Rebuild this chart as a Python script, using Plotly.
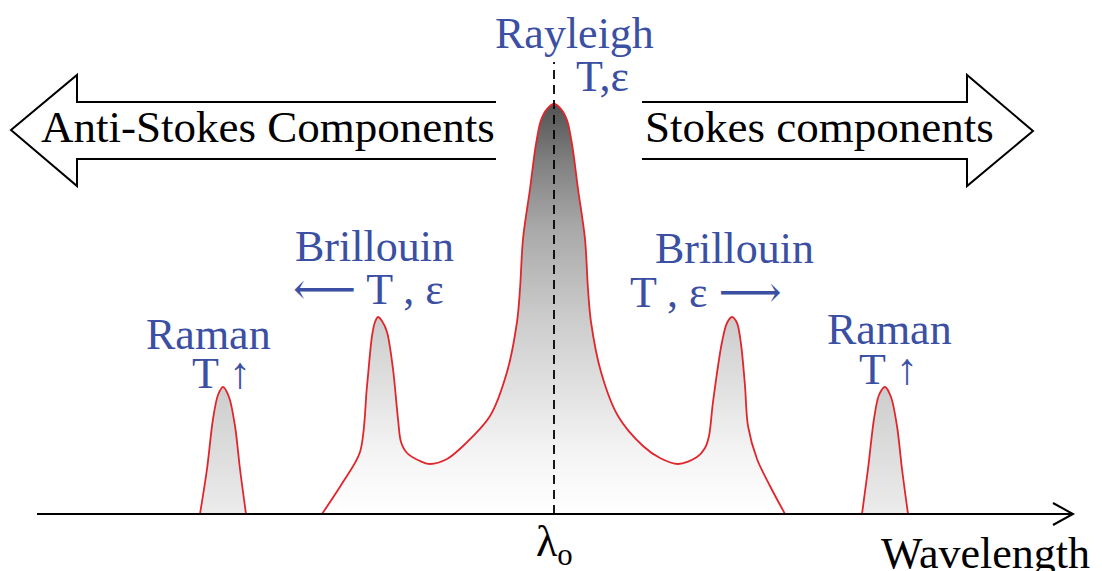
import plotly.graph_objects as go

# ---------------- data ----------------
# x: position along the wavelength axis, y: intensity above the baseline
raman_as_x = [200, 207, 213, 218, 223, 229, 235, 240, 246]
raman_as_y = [0, 45, 95, 119, 127, 117, 88, 45, 0]

center_x = [322, 343, 360, 367, 372, 375, 378, 382, 387, 393, 398, 401, 407, 420, 430, 447, 463,
            490, 507, 517, 520, 523, 530, 536, 541, 547, 554, 561, 567, 572, 578, 585, 588, 591,
            601, 618, 643, 660, 678, 697, 705, 709, 713, 722, 727, 732, 737, 741, 745,
            748, 757, 770, 785]
center_y = [0, 32, 62, 128, 178, 192, 197, 193, 182, 145, 95, 72, 61, 53, 50, 55, 68,
            98, 142, 192, 225, 275, 325, 370, 394, 405, 410, 405, 394, 370, 325, 275, 225, 192,
            142, 98, 68, 56, 50, 57, 66, 78, 112, 172, 191, 197, 191, 170, 128,
            88, 55, 28, 0]

raman_s_x = [862, 868, 874, 879, 885, 891, 897, 902, 908]
raman_s_y = [0, 45, 95, 119, 127, 117, 88, 45, 0]

lambda0 = 554
x_axis_start, x_axis_end = 37, 1073

labels_blue = ["Rayleigh", "T,ε", "Brillouin", "⟵ T , ε", "Raman", "T ↑",
               "Brillouin", "T , ε ⟶", "Raman", "T ↑"]
labels_blue_x = [574, 602, 374, 368, 208, 221, 734, 706, 889, 888]
labels_blue_y = [481, 438, 268, 225, 180, 141, 266, 222, 185, 145]

# ---------------- figure ----------------
BLUE = "#3b4fa3"
RED = "#e0262c"
SERIF = "Liberation Serif, Times New Roman, DejaVu Serif, serif"

fig = go.Figure()

grad_center = dict(type="vertical", start=0, stop=410,
                   colorscale=[[0, "#ffffff"], [0.15, "#f4f4f4"], [0.47, "#cdcdcd"],
                               [0.7, "#a8a8a8"], [0.86, "#808080"], [1, "#525252"]])
grad_raman = dict(type="vertical", start=0, stop=127,
                  colorscale=[[0, "#ececec"], [1, "#cdcdcd"]])

for xs, ys, grad in [(raman_as_x, raman_as_y, grad_raman),
                     (center_x, center_y, grad_center),
                     (raman_s_x, raman_s_y, grad_raman)]:
    fig.add_trace(go.Scatter(
        x=xs, y=ys, mode="lines", fill="tozeroy",
        fillgradient=grad,
        line=dict(color=RED, width=1.8, shape="spline", smoothing=0.9),
        hoverinfo="skip", showlegend=False))

shapes = []
# wavelength axis with open arrow head
shapes.append(dict(type="line", xref="x", yref="y", x0=x_axis_start, y0=0,
                   x1=x_axis_end, y1=0, line=dict(color="black", width=2.2), layer="above"))
shapes.append(dict(type="path", xref="x", yref="y",
                   path=f"M 1053,11 L {x_axis_end},0 L 1053,-11",
                   line=dict(color="black", width=2), layer="above"))
# dashed lambda0 line
shapes.append(dict(type="line", xref="x", yref="y", x0=lambda0, y0=0, x1=lambda0, y1=452,
                   line=dict(color="black", width=1.8, dash="9px,6px"), layer="above"))
# big outline arrows
shapes.append(dict(type="path", xref="x", yref="y",
                   path="M 496,412 L 77,412 L 77,439 L 11,384 L 77,328 L 77,355 L 496,355",
                   line=dict(color="black", width=2), layer="above"))
shapes.append(dict(type="path", xref="x", yref="y",
                   path="M 642,412 L 967,412 L 967,439 L 1033,383 L 967,328 L 967,355 L 642,355",
                   line=dict(color="black", width=2), layer="above"))

annotations = []
for t, x, y in zip(labels_blue, labels_blue_x, labels_blue_y):
    annotations.append(dict(text=t, x=x, y=y, xref="x", yref="y", showarrow=False,
                            xanchor="center", yanchor="middle",
                            font=dict(family=SERIF, size=44, color=BLUE)))
black_text = [("Anti-Stokes Components", 268, 387, 45),
              ("Stokes components", 819, 387, 45),
              ("Wavelength", 985, -39, 44),
              ("λ<sub>o</sub>", 554, -30, 44)]
for t, x, y, s in black_text:
    annotations.append(dict(text=t, x=x, y=y, xref="x", yref="y", showarrow=False,
                            xanchor="center", yanchor="middle",
                            font=dict(family=SERIF, size=s, color="black")))

fig.update_layout(
    width=1102, height=571,
    margin=dict(l=0, r=0, t=0, b=0),
    paper_bgcolor="white", plot_bgcolor="white",
    showlegend=False,
    xaxis=dict(range=[0, 1102], visible=False, fixedrange=True),
    yaxis=dict(range=[-57, 514], visible=False, fixedrange=True),
    shapes=shapes, annotations=annotations,
)

fig.write_html("out.html", config={"displayModeBar": False},
               post_script="document.body.style.margin='0px';document.body.style.overflow='hidden';")
